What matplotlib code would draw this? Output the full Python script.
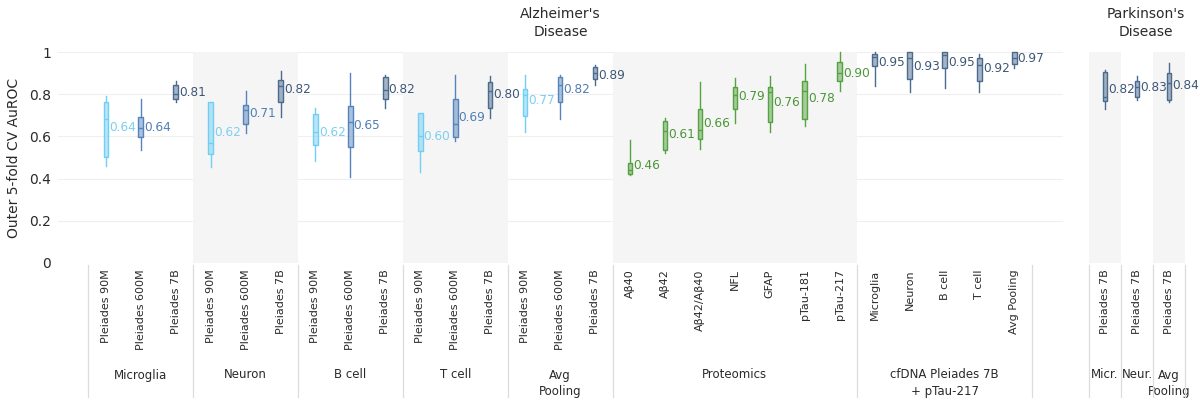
import matplotlib
matplotlib.use("Agg")
import matplotlib.pyplot as plt
from matplotlib.transforms import blended_transform_factory
from matplotlib.lines import Line2D

# ---------------- data ----------------
ad_groups = ["Microglia", "Neuron", "B cell", "T cell", "Avg\nPooling",
             "Proteomics", "cfDNA Pleiades 7B\n+ pTau-217"]
ad_group_sizes = [3, 3, 3, 3, 3, 7, 5]
ad_group_shaded = [False, True, False, True, False, True, False]

ad_ticks = (["Pleiades 90M", "Pleiades 600M", "Pleiades 7B"] * 5 +
            ["Aβ40", "Aβ42", "Aβ42/Aβ40", "NFL", "GFAP", "pTau-181", "pTau-217"] +
            ["Microglia", "Neuron", "B cell", "T cell", "Avg Pooling"])
ad_series = (["90M", "600M", "7B"] * 5 + ["prot"] * 7 + ["cf"] * 5)

ad_whislo = [0.461, 0.536, 0.763, 0.453, 0.615, 0.694, 0.485, 0.409, 0.733,
             0.430, 0.578, 0.686, 0.623, 0.681, 0.844,
             0.417, 0.523, 0.539, 0.665, 0.623, 0.651, 0.815,
             0.840, 0.809, 0.831, 0.812, 0.922]
ad_q1 = [0.504, 0.599, 0.776, 0.515, 0.657, 0.765, 0.559, 0.551, 0.777,
         0.532, 0.596, 0.733, 0.697, 0.765, 0.871,
         0.422, 0.536, 0.586, 0.728, 0.670, 0.681, 0.863,
         0.934, 0.872, 0.926, 0.863, 0.943]
ad_med = [0.681, 0.638, 0.801, 0.567, 0.725, 0.839, 0.623, 0.668, 0.820,
          0.602, 0.659, 0.817, 0.796, 0.844, 0.899,
          0.441, 0.626, 0.630, 0.796, 0.812, 0.817, 0.902,
          0.975, 0.970, 0.986, 0.938, 0.970]
ad_q3 = [0.765, 0.690, 0.842, 0.765, 0.747, 0.867, 0.705, 0.744, 0.880,
         0.709, 0.777, 0.856, 0.823, 0.880, 0.930,
         0.475, 0.673, 0.730, 0.833, 0.833, 0.861, 0.954,
         0.989, 0.998, 0.998, 0.970, 0.998]
ad_whishi = [0.791, 0.777, 0.863, 0.765, 0.815, 0.910, 0.736, 0.902, 0.889,
             0.712, 0.892, 0.886, 0.891, 0.891, 0.938,
             0.583, 0.689, 0.856, 0.878, 0.886, 0.942, 1.000,
             1.000, 1.000, 1.000, 0.989, 1.000]
ad_mean = [0.64, 0.64, 0.81, 0.62, 0.71, 0.82, 0.62, 0.65, 0.82,
           0.60, 0.69, 0.80, 0.77, 0.82, 0.89,
           0.46, 0.61, 0.66, 0.79, 0.76, 0.78, 0.90,
           0.95, 0.93, 0.95, 0.92, 0.97]

pd_groups = ["Micr.", "Neur.", "Avg\nPooling"]
pd_group_shaded = [True, False, True]
pd_ticks = ["Pleiades 7B", "Pleiades 7B", "Pleiades 7B"]
pd_series = ["cf", "cf", "cf"]
pd_whislo = [0.728, 0.773, 0.762]
pd_q1 = [0.768, 0.785, 0.773]
pd_med = [0.785, 0.833, 0.852]
pd_q3 = [0.907, 0.863, 0.902]
pd_whishi = [0.915, 0.886, 0.946]
pd_mean = [0.82, 0.83, 0.84]

# ---------------- styles ----------------
edge_col = {"90M": "#72cff4", "600M": "#5584bd", "7B": "#4b6a8e",
            "prot": "#55a241", "cf": "#4b6a8e"}
text_col = {"90M": "#7ccff0", "600M": "#4f7fb5", "7B": "#3e5876",
            "prot": "#4a9636", "cf": "#3e5876"}
shade = "#f5f5f5"
sep_col = "#dcdcdc"

W, H = 1200, 413
fig = plt.figure(figsize=(W / 100, H / 100), dpi=100)

def fx(px):
    return px / W

def fy(py):
    return (H - py) / H

y_top, y_bot = 52, 263
ax = fig.add_axes([fx(58), fy(y_bot), fx(1063 - 58), fy(y_top) - fy(y_bot)])
ax2 = fig.add_axes([fx(1089), fy(y_bot), fx(1185 - 1089), fy(y_top) - fy(y_bot)])


def draw(axis, ticks, series, lo, q1, med, q3, hi, mean, groups, sizes,
         shaded, xlim, boxw, grid):
    n = len(ticks)
    xs = list(range(n))
    axis.set_xlim(*xlim)
    axis.set_ylim(0, 1)
    for s in axis.spines.values():
        s.set_visible(False)
    start = 0
    bounds = [-0.5]
    centers = []
    for size, sh in zip(sizes, shaded):
        a, b = start - 0.5, start + size - 0.5
        if sh:
            axis.axvspan(a, b, ymin=0, ymax=1, color=shade, zorder=0.5, lw=0)
        centers.append((a + b) / 2)
        bounds.append(b)
        start += size
    if grid:
        for v in [0, 0.2, 0.4, 0.6, 0.8, 1.0]:
            axis.axhline(v, color="#efefef", lw=0.8, zorder=0.2)
    for i in range(n):
        c = edge_col[series[i]]
        st = dict(whislo=lo[i], q1=q1[i], med=med[i], q3=q3[i],
                  whishi=hi[i], fliers=[])
        bp = axis.bxp([st], positions=[xs[i]], widths=boxw,
                      showcaps=False, showfliers=False, patch_artist=True,
                      manage_ticks=False,
                      boxprops=dict(edgecolor=c, facecolor=c, linewidth=1.0),
                      whiskerprops=dict(color=c, linewidth=1.0),
                      medianprops=dict(color=c, linewidth=1.0))
        for b in bp["boxes"]:
            b.set_facecolor(matplotlib.colors.to_rgba(c, 0.5))
            b.set_zorder(3)
            b.set_clip_on(False)
        for k in ("whiskers", "medians"):
            for l in bp[k]:
                l.set_zorder(3)
                l.set_clip_on(False)
        axis.text(xs[i] + boxw / 2 + 0.03, mean[i], f"{mean[i]:.2f}",
                  ha="left", va="center", fontsize=8.7,
                  color=text_col[series[i]], zorder=4, clip_on=False)
    axis.set_xticks(xs)
    axis.set_xticklabels(ticks, rotation=90, fontsize=8, color="#2a2a2a")
    axis.tick_params(axis="x", length=0, pad=4.5)
    tr = blended_transform_factory(axis.transData, fig.transFigure)
    for bx in bounds:
        fig.add_artist(Line2D([bx, bx], [fy(265), fy(397)], transform=tr,
                              color=sep_col, lw=0.9))
    for cx, g in zip(centers, groups):
        for j, line in enumerate(g.split("\n")):
            axis.text(cx, fy(375 + 16 * j), line, transform=tr, ha="center",
                      va="center", fontsize=8.5, color="#2a2a2a")


draw(ax, ad_ticks, ad_series, ad_whislo, ad_q1, ad_med, ad_q3, ad_whishi,
     ad_mean, ad_groups, ad_group_sizes, ad_group_shaded, (-1.367, 27.39),
     0.13, True)
draw(ax2, pd_ticks, pd_series, pd_whislo, pd_q1, pd_med, pd_q3, pd_whishi,
     pd_mean, pd_groups, [1, 1, 1], pd_group_shaded, (-0.5, 2.5), 0.14, False)

ax.set_yticks([0, 0.2, 0.4, 0.6, 0.8, 1.0])
ax.set_yticklabels(["0", "0.2", "0.4", "0.6", "0.8", "1"], fontsize=10,
                   color="#2a2a2a")
ax.tick_params(axis="y", length=0, pad=5)
ax.set_ylabel("Outer 5-fold CV AuROC", fontsize=10, color="#2a2a2a",
              labelpad=6)
ax2.set_yticks([])

fig.text(fx(560.5), fy(23), "Alzheimer's\nDisease", ha="center", va="center",
         fontsize=10, color="#2a2a2a", linespacing=1.3)
fig.text(fx(1146), fy(23), "Parkinson's\nDisease", ha="center", va="center",
         fontsize=10, color="#2a2a2a", linespacing=1.3)

fig.savefig("out.png", dpi=100)
